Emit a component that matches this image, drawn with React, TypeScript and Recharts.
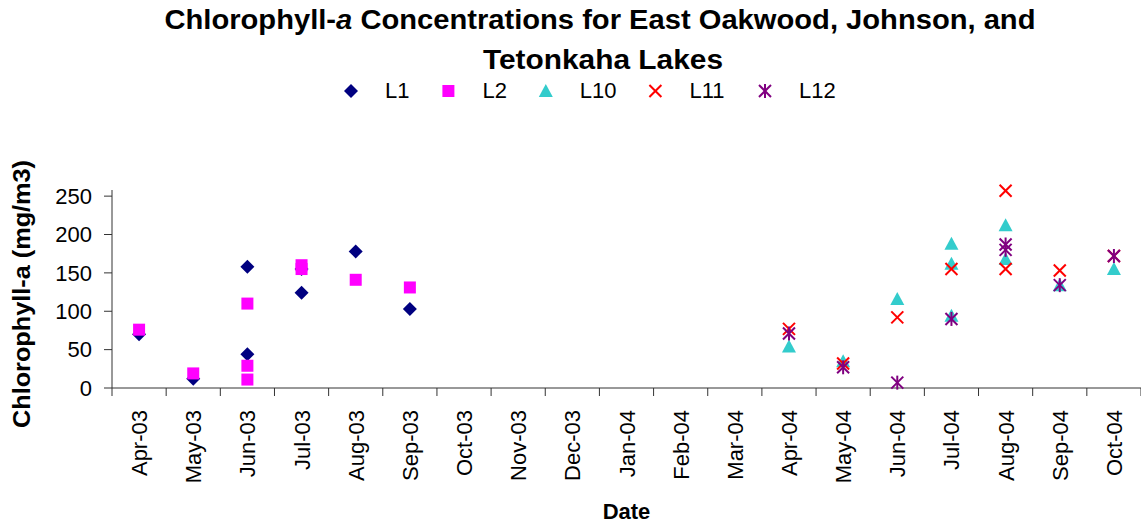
import { ScatterChart, Scatter, XAxis, YAxis } from "recharts";

const MONTHS = [
  "Apr-03", "May-03", "Jun-03", "Jul-03", "Aug-03", "Sep-03", "Oct-03", "Nov-03", "Dec-03", "Jan-04",
  "Feb-04", "Mar-04", "Apr-04", "May-04", "Jun-04", "Jul-04", "Aug-04", "Sep-04", "Oct-04",
];
const Y_TICKS = [0, 50, 100, 150, 200, 250];

// [month, chlorophyll-a mg/m3]
const L1_POINTS: [string, number][] = [
  ["Apr-03", 70], ["May-03", 12], ["Jun-03", 158], ["Jun-03", 44],
  ["Jul-03", 155], ["Jul-03", 124], ["Aug-03", 178], ["Sep-03", 103],
];
const L2_POINTS: [string, number][] = [
  ["Apr-03", 76], ["May-03", 19], ["Jun-03", 110], ["Jun-03", 29], ["Jun-03", 11],
  ["Jul-03", 160], ["Jul-03", 155], ["Aug-03", 141], ["Sep-03", 131],
];
const L10_POINTS: [string, number][] = [
  ["Apr-04", 54], ["May-04", 35], ["Jun-04", 116], ["Jul-04", 188], ["Jul-04", 162],
  ["Jul-04", 94], ["Aug-04", 212], ["Aug-04", 168], ["Sep-04", 134], ["Oct-04", 155],
];
const L11_POINTS: [string, number][] = [
  ["Apr-04", 77], ["May-04", 32], ["Jun-04", 92], ["Jul-04", 155],
  ["Aug-04", 257], ["Aug-04", 155], ["Sep-04", 153], ["Oct-04", 172],
];
const L12_POINTS: [string, number][] = [
  ["Apr-04", 71], ["May-04", 27], ["Jun-04", 7], ["Jul-04", 90],
  ["Aug-04", 187], ["Aug-04", 180], ["Sep-04", 134], ["Oct-04", 172],
];

const W = 1141;
const H = 527;
const PLOT_LEFT = 112;
const PLOT_TOP = 190;
const PLOT_BOTTOM = 388;
const BAND = (W - PLOT_LEFT) / MONTHS.length;
const FONT = "'Liberation Sans', Arial, sans-serif";

const toXY = (pts: [string, number][]) => pts.map(([m, v]) => ({ x: MONTHS.indexOf(m), y: v }));

// marker shapes, drawn like the Excel ones
function Diamond({ cx, cy }: any) {
  return <polygon points={`${cx},${cy - 7} ${cx + 7},${cy} ${cx},${cy + 7} ${cx - 7},${cy}`} fill="#000080" />;
}
function Square({ cx, cy }: any) {
  return <rect x={cx - 6} y={cy - 6} width={12} height={12} fill="#FF00FF" />;
}
function Triangle({ cx, cy }: any) {
  return <polygon points={`${cx},${cy - 7} ${cx + 7},${cy + 6} ${cx - 7},${cy + 6}`} fill="#33CCCC" />;
}
function Cross({ cx, cy }: any) {
  return (
    <g stroke="#FF0000" strokeWidth={2}>
      <line x1={cx - 6} y1={cy - 6} x2={cx + 6} y2={cy + 6} />
      <line x1={cx - 6} y1={cy + 6} x2={cx + 6} y2={cy - 6} />
    </g>
  );
}
function Star({ cx, cy }: any) {
  return (
    <g stroke="#800080" strokeWidth={2}>
      <line x1={cx - 6} y1={cy - 6} x2={cx + 6} y2={cy + 6} />
      <line x1={cx - 6} y1={cy + 6} x2={cx + 6} y2={cy - 6} />
      <line x1={cx} y1={cy - 7} x2={cx} y2={cy + 7} />
    </g>
  );
}

const SERIES = [
  { name: "L1", points: L1_POINTS, Shape: Diamond },
  { name: "L2", points: L2_POINTS, Shape: Square },
  { name: "L10", points: L10_POINTS, Shape: Triangle },
  { name: "L11", points: L11_POINTS, Shape: Cross },
  { name: "L12", points: L12_POINTS, Shape: Star },
];

// month label centred in its band, tick marks on the band edges
function MonthTick({ x, y, payload, index }: any) {
  const axisY = y - 22;
  return (
    <g>
      <line x1={x - BAND / 2} y1={axisY} x2={x - BAND / 2} y2={axisY + 8} stroke="#333" />
      {index === MONTHS.length - 1 && (
        <line x1={x + BAND / 2} y1={axisY} x2={x + BAND / 2} y2={axisY + 8} stroke="#333" />
      )}
      <text
        transform={`translate(${x + 8},${y}) rotate(-90)`}
        textAnchor="end"
        fontSize={22}
        fontFamily={FONT}
        fill="#000"
      >
        {MONTHS[payload.value]}
      </text>
    </g>
  );
}

function Header() {
  let lx = 351;
  const items = SERIES.map((s) => {
    const item = { ...s, x: lx };
    lx += 34 + s.name.length * 12.2 + 39;
    return item;
  });
  return (
    <svg width={W} height={110} style={{ position: "absolute", left: 0, top: 0, pointerEvents: "none" }}>
      <g fontFamily={FONT} fontWeight="bold" fontSize={27} fill="#000" textAnchor="middle">
        <text x={600} y={29} textLength={871} lengthAdjust="spacingAndGlyphs">
          Chlorophyll-<tspan fontStyle="italic">a</tspan> Concentrations for East Oakwood, Johnson, and
        </text>
        <text x={603} y={69} textLength={240} lengthAdjust="spacingAndGlyphs">
          Tetonkaha Lakes
        </text>
      </g>
      {items.map(({ name, x, Shape }) => (
        <g key={name}>
          <Shape cx={x} cy={91} />
          <text x={x + 34} y={98} fontFamily={FONT} fontSize={22} fill="#000">
            {name}
          </text>
        </g>
      ))}
    </svg>
  );
}

export default function App() {
  return (
    <div style={{ position: "relative", width: W, height: H, background: "#fff" }}>
      <style>{`body{margin:0}`}</style>
      <ScatterChart width={W} height={H} margin={{ top: PLOT_TOP, right: 0, bottom: 0, left: 0 }}>
        <XAxis
          type="number"
          dataKey="x"
          domain={[-0.5, MONTHS.length - 0.5]}
          ticks={MONTHS.map((_, i) => i)}
          interval={0}
          height={H - PLOT_BOTTOM}
          tickLine={false}
          tickSize={8}
          tickMargin={14}
          axisLine={{ stroke: "#333" }}
          tick={<MonthTick />}
          label={{
            content: ({ viewBox }: any) => (
              <text
                x={viewBox.x + viewBox.width / 2}
                y={519}
                textAnchor="middle"
                fontFamily={FONT}
                fontWeight="bold"
                fontSize={22}
                fill="#000"
              >
                Date
              </text>
            ),
          }}
        />
        <YAxis
          type="number"
          dataKey="y"
          domain={[0, 258]}
          ticks={Y_TICKS}
          interval={0}
          width={PLOT_LEFT}
          tickSize={8}
          tickMargin={12}
          tickLine={{ stroke: "#333" }}
          axisLine={{ stroke: "#333" }}
          tick={{ fontSize: 22, fontFamily: FONT, fill: "#000" }}
          label={{
            content: ({ viewBox }: any) => (
              <text
                transform={`translate(30,${viewBox.y + viewBox.height / 2 + 5}) rotate(-90)`}
                textAnchor="middle"
                fontFamily={FONT}
                fontWeight="bold"
                fontSize={24}
                fill="#000"
                textLength={268}
                lengthAdjust="spacingAndGlyphs"
              >
                Chlorophyll-a (mg/m3)
              </text>
            ),
          }}
        />
        {SERIES.map(({ name, points, Shape }) => (
          <Scatter
            key={name}
            name={name}
            data={toXY(points)}
            shape={(p: any) => <Shape cx={p.cx} cy={p.cy} />}
            isAnimationActive={false}
          />
        ))}
      </ScatterChart>
      <Header />
    </div>
  );
}
